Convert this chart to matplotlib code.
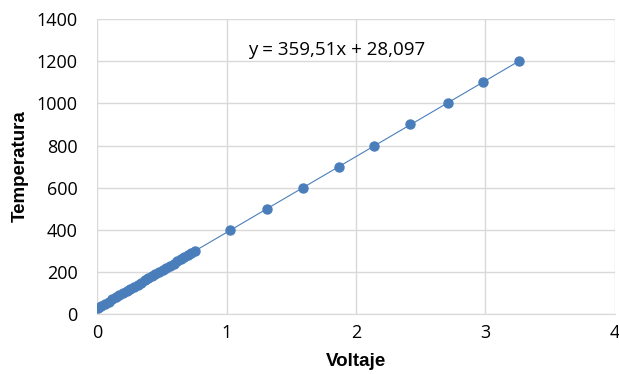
import numpy as np
import matplotlib.pyplot as plt

# data
temps_low = [30, 40, 50, 60, 70, 80, 90, 100, 110, 120, 130, 140, 150, 160, 170,
             180, 190, 200, 210, 220, 230, 240, 250, 260, 270, 280, 290, 300]
volts_low = [0.006, 0.033, 0.061, 0.089, 0.117, 0.145, 0.172, 0.200, 0.228, 0.256,
             0.284, 0.312, 0.339, 0.367, 0.395, 0.423, 0.450, 0.478, 0.506, 0.534,
             0.562, 0.590, 0.617, 0.645, 0.673, 0.701, 0.729, 0.757]
temps_high = [400, 500, 600, 700, 800, 900, 1000, 1100, 1200]
volts_high = [1.03, 1.31, 1.59, 1.87, 2.14, 2.42, 2.71, 2.98, 3.26]

voltaje = np.array(volts_low + volts_high)
temperatura = np.array(temps_low + temps_high)

plt.rcParams['font.family'] = ['Open Sans', 'DejaVu Sans']

fig = plt.figure(figsize=(6.19, 3.74), dpi=100)
ax = fig.add_axes([0.157, 0.160, 0.836, 0.789])

blue = '#4a7ebb'
ax.plot(voltaje, temperatura, 'o', color=blue, markersize=6.5, zorder=3)

# linear trendline
m, b = np.polyfit(voltaje, temperatura, 1)
xt = np.array([voltaje.min(), voltaje.max()])
ax.plot(xt, m * xt + b, color=blue, linewidth=0.8, zorder=2)
ax.text(1.85, 1253, 'y = 359,51x + 28,097', ha='center', va='center', fontsize=13.5)

ax.set_xlim(0, 4)
ax.set_ylim(0, 1400)
ax.set_xticks([0, 1, 2, 3, 4])
ax.set_yticks(range(0, 1401, 200))
ax.grid(True, color='#d9d9d9', linewidth=1)
ax.set_axisbelow(True)
for s in ax.spines.values():
    s.set_visible(False)
ax.spines['bottom'].set_visible(True)
ax.spines['bottom'].set_color('#d9d9d9')
ax.tick_params(length=0, labelsize=13)
ax.tick_params(axis='y', pad=14)
ax.tick_params(axis='x', pad=7)

lab = dict(fontsize=13.5, fontweight='bold', family='Liberation Sans')
ax.set_xlabel('Voltaje', labelpad=8, **lab)
ax.set_ylabel('Temperatura', labelpad=6, **lab)

fig.savefig('out.png', dpi=100)
